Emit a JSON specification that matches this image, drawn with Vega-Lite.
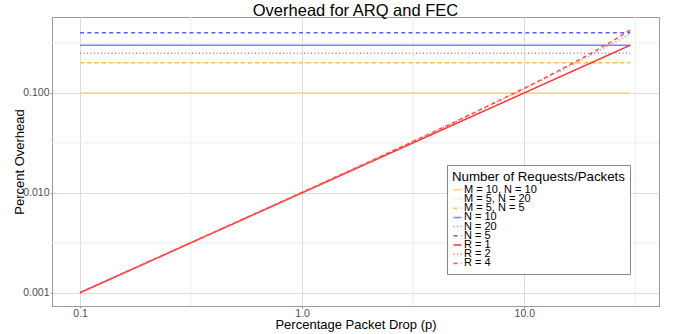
{
  "$schema": "https://vega.github.io/schema/vega-lite/v6.json",
  "width": 607,
  "height": 289,
  "autosize": {"type": "none"},
  "padding": {"left": 52, "top": 17, "right": 14, "bottom": 28},
  "background": "white",
  "title": {"text": "Overhead for ARQ and FEC", "fontSize": 16.5, "font": "Liberation Sans", "fontWeight": "normal", "color": "black", "anchor": "middle", "offset": -3},
  "config": {
    "font": "Liberation Sans",
    "view": {"stroke": "#999999", "strokeWidth": 1},
    "axis": {"gridColor": "#DCDCDC", "gridWidth": 1, "domainColor": "#999999", "tickColor": "#999999", "tickSize": 2, "labelColor": "#4D4D4D", "labelFontSize": 10.5, "titleFontSize": 13, "titleFontWeight": "normal", "titleColor": "black", "labelFont": "Liberation Sans", "titleFont": "Liberation Sans"},
    "legend": {"orient": "none", "legendX": 395, "legendY": 148, "padding": 5, "strokeColor": "#888888", "fillColor": "white", "titleFontSize": 13.3, "titleFont": "Liberation Sans", "titleFontWeight": "normal", "titleColor": "black", "titlePadding": 1, "labelFont": "Liberation Sans", "labelFontSize": 11, "labelColor": "black", "rowPadding": -2.8, "gridAlign": "none", "symbolType": "stroke", "symbolSize": 64, "symbolStrokeWidth": 1.5, "labelOffset": 1}
  },
  "datasets": {
    "xminor": [{"v": 0.3162}, {"v": 3.162}, {"v": 31.62}],
    "yminor": [{"v": 0.003162}, {"v": 0.03162}, {"v": 0.3162}],
    "lines": [
      {"series": "M = 10, N = 10", "p": 0.1, "o": 0.1}, {"series": "M = 10, N = 10", "p": 30, "o": 0.1},
      {"series": "M = 5, N = 20", "p": 0.1, "o": 0.2}, {"series": "M = 5, N = 20", "p": 30, "o": 0.2},
      {"series": "M = 5, N = 5", "p": 0.1, "o": 0.2}, {"series": "M = 5, N = 5", "p": 30, "o": 0.2},
      {"series": "N = 10", "p": 0.1, "o": 0.3}, {"series": "N = 10", "p": 30, "o": 0.3},
      {"series": "N = 20", "p": 0.1, "o": 0.25}, {"series": "N = 20", "p": 30, "o": 0.25},
      {"series": "N = 5", "p": 0.1, "o": 0.4}, {"series": "N = 5", "p": 30, "o": 0.4},
      {"series": "R = 1", "p": 0.1, "o": 0.001}, {"series": "R = 1", "p": 1, "o": 0.01}, {"series": "R = 1", "p": 10, "o": 0.1}, {"series": "R = 1", "p": 30, "o": 0.3},
      {"series": "R = 2", "p": 0.1, "o": 0.001}, {"series": "R = 2", "p": 0.5, "o": 0.005025}, {"series": "R = 2", "p": 1, "o": 0.0101}, {"series": "R = 2", "p": 2, "o": 0.0204}, {"series": "R = 2", "p": 5, "o": 0.0525}, {"series": "R = 2", "p": 10, "o": 0.11}, {"series": "R = 2", "p": 15, "o": 0.1725}, {"series": "R = 2", "p": 20, "o": 0.24}, {"series": "R = 2", "p": 25, "o": 0.3125}, {"series": "R = 2", "p": 30, "o": 0.39},
      {"series": "R = 4", "p": 0.1, "o": 0.001}, {"series": "R = 4", "p": 0.5, "o": 0.005025}, {"series": "R = 4", "p": 1, "o": 0.0101}, {"series": "R = 4", "p": 2, "o": 0.0204}, {"series": "R = 4", "p": 5, "o": 0.0526}, {"series": "R = 4", "p": 10, "o": 0.1111}, {"series": "R = 4", "p": 15, "o": 0.1764}, {"series": "R = 4", "p": 20, "o": 0.2496}, {"series": "R = 4", "p": 25, "o": 0.332}, {"series": "R = 4", "p": 30, "o": 0.425}
    ]
  },
  "layer": [
    {
      "data": {"name": "xminor"},
      "mark": {"type": "rule", "color": "#EDEDED", "strokeWidth": 1},
      "encoding": {"x": {"field": "v", "type": "quantitative", "scale": {"type": "log", "domain": [0.0748, 40.4], "nice": false}, "axis": {"values": [0.1, 1, 10], "format": ".1f", "title": "Percentage Packet Drop (p)", "labelPadding": 0, "titlePadding": 0}}}
    },
    {
      "data": {"name": "yminor"},
      "mark": {"type": "rule", "color": "#EDEDED", "strokeWidth": 1},
      "encoding": {"y": {"field": "v", "type": "quantitative", "scale": {"type": "log", "domain": [0.000736, 0.575], "nice": false}, "axis": {"values": [0.001, 0.01, 0.1], "format": ".3f", "title": "Percent Overhead", "labelPadding": 1, "titlePadding": -4}}}
    },
    {
      "data": {"name": "lines"},
      "mark": {"type": "line", "strokeWidth": 1.5, "clip": true},
      "encoding": {
        "x": {"field": "p", "type": "quantitative", "scale": {"type": "log", "domain": [0.0748, 40.4], "nice": false}, "axis": {"values": [0.1, 1, 10], "format": ".1f", "title": "Percentage Packet Drop (p)", "labelPadding": 0, "titlePadding": 0}},
        "y": {"field": "o", "type": "quantitative", "scale": {"type": "log", "domain": [0.000736, 0.575], "nice": false}, "axis": {"values": [0.001, 0.01, 0.1], "format": ".3f", "title": "Percent Overhead", "labelPadding": 1, "titlePadding": -4}},
        "color": {"field": "series", "type": "nominal", "title": "Number of Requests/Packets",
          "scale": {"domain": ["M = 10, N = 10", "M = 5, N = 20", "M = 5, N = 5", "N = 10", "N = 20", "N = 5", "R = 1", "R = 2", "R = 4"],
                    "range": ["#FFD280", "#FFD280", "#FFC04D", "#8080FF", "#8080FF", "#5C5CFF", "#FF3333", "#FF6666", "#FF4D4D"]}},
        "strokeDash": {"field": "series", "type": "nominal", "title": "Number of Requests/Packets",
          "scale": {"domain": ["M = 10, N = 10", "M = 5, N = 20", "M = 5, N = 5", "N = 10", "N = 20", "N = 5", "R = 1", "R = 2", "R = 4"],
                    "range": [[1, 0], [1, 2.5], [4, 3.3], [1, 0], [1, 2.5], [4, 3.3], [1, 0], [1, 2.5], [4, 3.3]]}}
      }
    }
  ],
  "resolve": {"scale": {"x": "shared", "y": "shared"}}
}
